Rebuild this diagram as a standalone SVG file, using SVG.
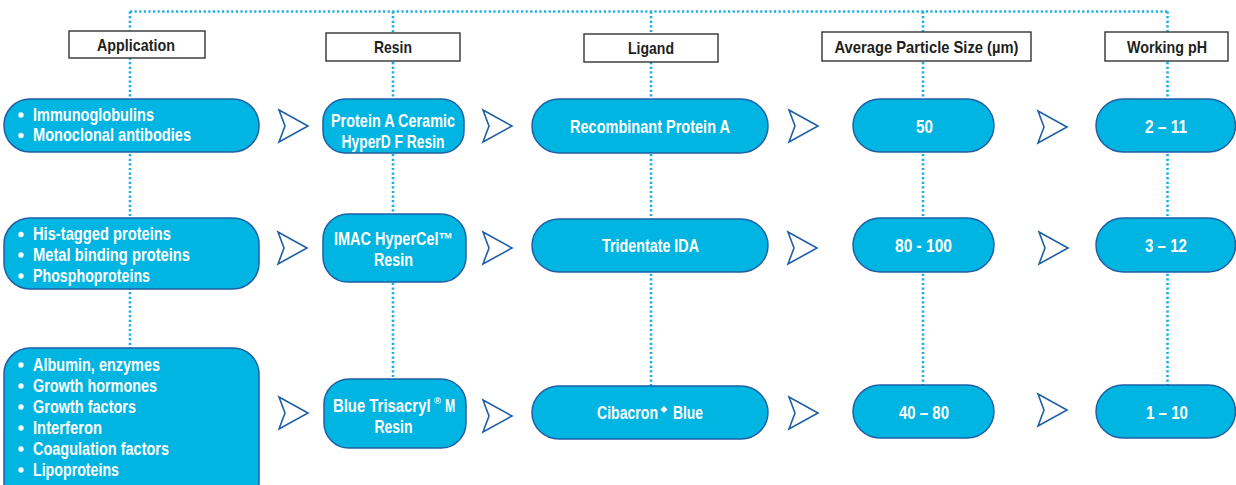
<svg xmlns="http://www.w3.org/2000/svg" xmlns:xlink="http://www.w3.org/1999/xlink" width="1236" height="485" viewBox="0 0 1236 485">
<defs>
<style>
.dot{fill:none;stroke:#1bb0e3;stroke-width:2.6;stroke-dasharray:2.2 2.4}
.hdr{fill:#fff;stroke:#333;stroke-width:1.4}
.ht{font-family:"Liberation Sans",Arial,sans-serif;font-weight:bold;font-size:17px;fill:#231f20;text-anchor:middle}
.nd{fill:#00b5e2;stroke:#1f5fa5;stroke-width:1.5}
.nt{font-family:"Liberation Sans",Arial,sans-serif;font-weight:bold;font-size:17.5px;fill:#fff;text-anchor:middle}
.lt{font-family:"Liberation Sans",Arial,sans-serif;font-weight:bold;font-size:17.5px;fill:#fff}
.st{font-family:"Liberation Sans",Arial,sans-serif;font-weight:bold;font-size:9.5px;fill:#fff}
.bl{fill:#fff}
.arr{fill:#fff;stroke:#1f5fa5;stroke-width:1.6;stroke-linejoin:miter}
</style>
<path id="chev" d="M0,0 L29,16 L0,32 L6,16 Z"/>
</defs>
<rect width="1236" height="485" fill="#fff"/>
<g id="connectors">
<path class="dot" d="M130,11.5 H1167.5"/>
<path class="dot" d="M130,11.5 V348"/>
<path class="dot" d="M393,11.5 V379"/>
<path class="dot" d="M651,11.5 V386"/>
<path class="dot" d="M923,11.5 V385"/>
<path class="dot" d="M1167.5,11.5 V385"/>
<use href="#chev" class="arr" x="279" y="110"/>
<use href="#chev" class="arr" x="483" y="110"/>
<use href="#chev" class="arr" x="789" y="110"/>
<use href="#chev" class="arr" x="1038" y="111"/>
<use href="#chev" class="arr" x="278" y="232"/>
<use href="#chev" class="arr" x="483" y="232"/>
<use href="#chev" class="arr" x="788" y="232"/>
<use href="#chev" class="arr" x="1039" y="232"/>
<use href="#chev" class="arr" x="279" y="397"/>
<use href="#chev" class="arr" x="483" y="400"/>
<use href="#chev" class="arr" x="789" y="397"/>
<use href="#chev" class="arr" x="1038" y="394"/>
</g>
<g id="h-application"><rect class="hdr" x="69" y="31" width="136" height="27"/><text class="ht" x="136" y="50.5" textLength="78" lengthAdjust="spacingAndGlyphs">Application</text></g>
<g id="h-resin"><rect class="hdr" x="326" y="33" width="134" height="28"/><text class="ht" x="393" y="53" textLength="38" lengthAdjust="spacingAndGlyphs">Resin</text></g>
<g id="h-ligand"><rect class="hdr" x="584" y="34" width="134" height="28"/><text class="ht" x="651" y="54" textLength="46" lengthAdjust="spacingAndGlyphs">Ligand</text></g>
<g id="h-size"><rect class="hdr" x="822" y="32" width="209" height="29"/><text class="ht" x="926.5" y="53" textLength="184" lengthAdjust="spacingAndGlyphs">Average Particle Size (µm)</text></g>
<g id="h-ph"><rect class="hdr" x="1105" y="32" width="123" height="29"/><text class="ht" x="1167" y="53" textLength="80" lengthAdjust="spacingAndGlyphs">Working pH</text></g>

<g id="app1"><rect class="nd" x="4" y="99" width="255" height="53" rx="26" ry="26"/>
<circle class="bl" cx="21" cy="115" r="2.7"/><text class="lt" x="33" y="120.7" textLength="121" lengthAdjust="spacingAndGlyphs">Immunoglobulins</text>
<circle class="bl" cx="21" cy="135.5" r="2.7"/><text class="lt" x="33" y="141" textLength="158" lengthAdjust="spacingAndGlyphs">Monoclonal antibodies</text></g>
<g id="app2"><rect class="nd" x="4" y="218" width="255" height="71" rx="26" ry="26"/>
<circle class="bl" cx="21" cy="234.5" r="2.7"/><text class="lt" x="33" y="240" textLength="138" lengthAdjust="spacingAndGlyphs">His-tagged proteins</text>
<circle class="bl" cx="21" cy="255" r="2.7"/><text class="lt" x="33" y="260.5" textLength="157" lengthAdjust="spacingAndGlyphs">Metal binding proteins</text>
<circle class="bl" cx="21" cy="276" r="2.7"/><text class="lt" x="33" y="281.5" textLength="117" lengthAdjust="spacingAndGlyphs">Phosphoproteins</text></g>
<g id="app3"><rect class="nd" x="4" y="348" width="255" height="160" rx="26" ry="26"/>
<circle class="bl" cx="21" cy="365" r="2.7"/><text class="lt" x="33" y="370.5" textLength="127" lengthAdjust="spacingAndGlyphs">Albumin, enzymes</text>
<circle class="bl" cx="21" cy="386" r="2.7"/><text class="lt" x="33" y="391.5" textLength="124" lengthAdjust="spacingAndGlyphs">Growth hormones</text>
<circle class="bl" cx="21" cy="407" r="2.7"/><text class="lt" x="33" y="412.5" textLength="103" lengthAdjust="spacingAndGlyphs">Growth factors</text>
<circle class="bl" cx="21" cy="428" r="2.7"/><text class="lt" x="33" y="433.5" textLength="69" lengthAdjust="spacingAndGlyphs">Interferon</text>
<circle class="bl" cx="21" cy="449" r="2.7"/><text class="lt" x="33" y="454.5" textLength="136" lengthAdjust="spacingAndGlyphs">Coagulation factors</text>
<circle class="bl" cx="21" cy="470" r="2.7"/><text class="lt" x="33" y="475.5" textLength="86" lengthAdjust="spacingAndGlyphs">Lipoproteins</text></g>

<g id="resin1"><rect class="nd" x="323" y="99" width="141" height="54" rx="22" ry="22"/>
<text class="nt" x="393" y="127" textLength="124" lengthAdjust="spacingAndGlyphs">Protein A Ceramic</text>
<text class="nt" x="393" y="147.5" textLength="103" lengthAdjust="spacingAndGlyphs">HyperD F Resin</text></g>
<g id="resin2"><rect class="nd" x="323" y="214" width="143" height="68" rx="25" ry="25"/>
<text class="nt" x="393.5" y="245" textLength="119" lengthAdjust="spacingAndGlyphs">IMAC HyperCel™</text>
<text class="nt" x="393.5" y="266" textLength="39" lengthAdjust="spacingAndGlyphs">Resin</text></g>
<g id="resin3"><rect class="nd" x="324" y="379" width="142" height="69" rx="25" ry="25"/>
<text class="lt" transform="translate(333,412) scale(0.85,1)" x="0" y="0">Blue Trisacryl</text>
<text class="st" x="434" y="404" textLength="7" lengthAdjust="spacingAndGlyphs">®</text>
<text class="lt" transform="translate(445,412) scale(0.7,1)" x="0" y="0">M</text>
<text class="nt" x="393.5" y="432.5" textLength="38" lengthAdjust="spacingAndGlyphs">Resin</text></g>

<g id="ligand1"><rect class="nd" x="532" y="99" width="236" height="54" rx="27" ry="27"/>
<text class="nt" x="650" y="133.3" textLength="160" lengthAdjust="spacingAndGlyphs">Recombinant Protein A</text></g>
<g id="ligand2"><rect class="nd" x="532" y="219" width="236" height="53" rx="27" ry="27"/>
<text class="nt" x="650.5" y="252" textLength="97" lengthAdjust="spacingAndGlyphs">Tridentate IDA</text></g>
<g id="ligand3"><rect class="nd" x="532" y="386" width="236" height="53" rx="27" ry="27"/>
<text class="lt" x="597" y="419" textLength="61" lengthAdjust="spacingAndGlyphs">Cibacron</text>
<polygon class="bl" points="664,406 667.5,409.5 664,413 660.5,409.5"/>
<text class="lt" x="673" y="419" textLength="30" lengthAdjust="spacingAndGlyphs">Blue</text></g>

<g id="size1"><rect class="nd" x="853" y="99" width="141" height="53" rx="27" ry="27"/>
<text class="nt" x="924.5" y="132.7" textLength="17" lengthAdjust="spacingAndGlyphs">50</text></g>
<g id="size2"><rect class="nd" x="853" y="218" width="141" height="54" rx="27" ry="27"/>
<text class="nt" x="923.5" y="252" textLength="57" lengthAdjust="spacingAndGlyphs">80 - 100</text></g>
<g id="size3"><rect class="nd" x="853" y="385" width="141" height="53" rx="27" ry="27"/>
<text class="nt" x="924" y="419" textLength="50" lengthAdjust="spacingAndGlyphs">40 – 80</text></g>

<g id="ph1"><rect class="nd" x="1096" y="99" width="139.5" height="53" rx="27" ry="27"/>
<text class="nt" x="1166" y="132.7" textLength="42" lengthAdjust="spacingAndGlyphs">2 – 11</text></g>
<g id="ph2"><rect class="nd" x="1096" y="218" width="139.5" height="54" rx="27" ry="27"/>
<text class="nt" x="1166" y="252" textLength="42" lengthAdjust="spacingAndGlyphs">3 – 12</text></g>
<g id="ph3"><rect class="nd" x="1096" y="385" width="139.5" height="53" rx="27" ry="27"/>
<text class="nt" x="1167" y="419" textLength="42" lengthAdjust="spacingAndGlyphs">1 – 10</text></g>
</svg>
